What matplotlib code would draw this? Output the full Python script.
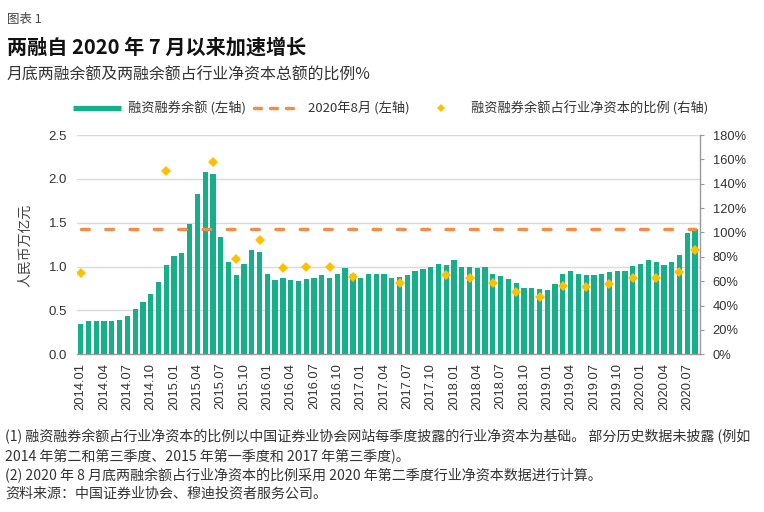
import matplotlib
matplotlib.use("Agg")
import matplotlib.pyplot as plt
import numpy as np
from matplotlib.lines import Line2D
from matplotlib.font_manager import FontProperties

# ---------------- data ----------------
months = [f"{y}.{m:02d}" for y in range(2014, 2021) for m in range(1, 13)][:80]

# 融资融券余额 (人民币万亿元), monthly 2014.01 - 2020.08
margin_balance = [
    0.35, 0.38, 0.38, 0.38, 0.38, 0.39, 0.44, 0.52, 0.60, 0.69, 0.82, 1.02,
    1.12, 1.15, 1.49, 1.83, 2.08, 2.05, 1.34, 1.05, 0.90, 1.03, 1.19, 1.17,
    0.91, 0.85, 0.87, 0.85, 0.83, 0.86, 0.87, 0.90, 0.87, 0.91, 0.98, 0.91,
    0.87, 0.91, 0.92, 0.91, 0.87, 0.88, 0.90, 0.95, 0.97, 1.00, 1.03, 1.02,
    1.08, 0.99, 1.00, 0.98, 0.99, 0.91, 0.89, 0.86, 0.81, 0.76, 0.76, 0.74,
    0.73, 0.80, 0.91, 0.95, 0.91, 0.90, 0.90, 0.91, 0.94, 0.95, 0.95, 1.01,
    1.03, 1.08, 1.05, 1.02, 1.05, 1.13, 1.38, 1.43,
]

# 2020年8月 level (左轴)
aug2020_level = 1.43

# 融资融券余额占行业净资本的比例 (%), quarterly where disclosed
ratio_months = ["2014.01", "2014.12", "2015.06", "2015.09", "2015.12",
                "2016.03", "2016.06", "2016.09", "2016.12", "2017.06",
                "2017.12", "2018.03", "2018.06", "2018.09", "2018.12",
                "2019.03", "2019.06", "2019.09", "2019.12", "2020.03",
                "2020.06", "2020.08"]
ratio_values = [66.8, 150.6, 157.5, 78.3, 93.7,
                70.9, 71.5, 72.0, 63.7, 58.8,
                64.8, 62.4, 58.6, 51.4, 47.3,
                56.1, 55.3, 57.4, 62.4, 62.4,
                67.9, 85.2]

left_ticks = [0.0, 0.5, 1.0, 1.5, 2.0, 2.5]
right_ticks = [0, 20, 40, 60, 80, 100, 120, 140, 160, 180]

legend_labels = ["融资融券余额 (左轴)", "2020年8月 (左轴)", "融资融券余额占行业净资本的比例 (右轴)"]

# ---------------- style ----------------
TEAL = "#17AE8A"
ORANGE = "#EE8F4C"
GOLD = "#FFC000"
TXT = "#333333"
CJK = ["Noto Sans CJK SC", "DejaVu Sans"]
NUM = ["Liberation Sans", "Noto Sans CJK SC"]

W, H = 764, 512
fig = plt.figure(figsize=(W / 100, H / 100), dpi=100)
L, R, T, B = 76.7, 700, 135, 354.3
ax = fig.add_axes([L / W, 1 - B / H, (R - L) / W, (B - T) / H])

x = np.arange(len(months))
ax.bar(x, margin_balance, width=0.68, color=TEAL, zorder=2)
ax.plot([x[0], x[-1]], [aug2020_level, aug2020_level], color=ORANGE, lw=2.5,
        dashes=(2.2, 4.8), dash_capstyle="round", zorder=3)

ax.set_xlim(-0.52, len(months) - 1 + 0.64)
ax.set_ylim(0, 2.5)
ax.set_yticks(left_ticks)
ax.set_yticklabels([f"{v:.1f}" for v in left_ticks], family=NUM, fontsize=9.5, color=TXT)
ax.yaxis.grid(True, color="#DADADA", lw=1, zorder=0)
ax.set_axisbelow(True)
ax.tick_params(axis="y", length=0, pad=7)

tick_idx = x[::3]
ax.set_xticks(tick_idx)
ax.set_xticklabels([months[i] for i in tick_idx], rotation=90, family=NUM,
                   fontsize=9.3, color=TXT)
ax.tick_params(axis="x", length=0, pad=6)

for s in ["left", "top", "right"]:
    ax.spines[s].set_visible(False)
ax.spines["bottom"].set_color("#9A9A9A")
ax.spines["bottom"].set_linewidth(1)

ax2 = ax.twinx()
ratio_x = [months.index(m) for m in ratio_months]
ax2.plot(ratio_x, ratio_values, ls="none", marker="D", ms=5.6, color=GOLD,
         markeredgewidth=0, zorder=4)
ax2.set_ylim(0, 180)
ax2.set_yticks(right_ticks)
ax2.set_yticklabels([f"{v}%" for v in right_ticks], family=NUM, fontsize=9.3, color=TXT)
ax2.tick_params(axis="y", length=3, color="#9A9A9A", pad=6)
for s in ["left", "top", "bottom"]:
    ax2.spines[s].set_visible(False)
ax2.spines["right"].set_color("#9A9A9A")
ax2.spines["right"].set_linewidth(1)

# y label
fig.text(25 / W, 1 - 245 / H, "人民币万亿元", rotation=90, ha="center", va="center",
         family=CJK, fontsize=10, color="#444444")

# legend
handles = [
    Line2D([], [], color=TEAL, lw=3.8, solid_capstyle="butt"),
    Line2D([], [], color=ORANGE, lw=2.5, dashes=(2.0, 2.6), dash_capstyle="round"),
    Line2D([], [], ls="none", marker="D", ms=4.5, color=GOLD, markeredgewidth=0),
]
fig.legend(handles, legend_labels, loc="center", bbox_to_anchor=(391 / W, 1 - 108 / H),
           ncol=3, frameon=False, prop=FontProperties(family=CJK, size=9.5),
           handlelength=3.6, columnspacing=0.6, handletextpad=0.5, labelcolor=TXT)

# titles
fig.text(7 / W, 1 - 19 / H, "图表 1", family=CJK, fontsize=9, color="#444444",
         ha="left", va="center")
fig.text(7 / W, 1 - 47 / H, "两融自 2020 年 7 月以来加速增长", family=CJK, fontsize=14.5,
         fontweight="bold", color="#111111", ha="left", va="center")
fig.text(7 / W, 1 - 75 / H, "月底两融余额及两融余额占行业净资本总额的比例%", family=CJK,
         fontsize=11.45, color="#333333", ha="left", va="center")

# footnotes
notes = [
    (437, "(1) 融资融券余额占行业净资本的比例以中国证券业协会网站每季度披露的行业净资本为基础。 部分历史数据未披露 (例如", "normal"),
    (456, "2014 年第二和第三季度、2015 年第一季度和 2017 年第三季度)。", "normal"),
    (476, "(2) 2020 年 8 月底两融余额占行业净资本的比例采用 2020 年第二季度行业净资本数据进行计算。", "normal"),
    (494, "资料来源：中国证券业协会、穆迪投资者服务公司。", "italic"),
]
for yy, s, st in notes:
    fig.text(5 / W, 1 - yy / H, s, family=CJK, fontsize=10.1, color="#333333",
             ha="left", va="center", style=st)

fig.savefig("out.png", dpi=100)
